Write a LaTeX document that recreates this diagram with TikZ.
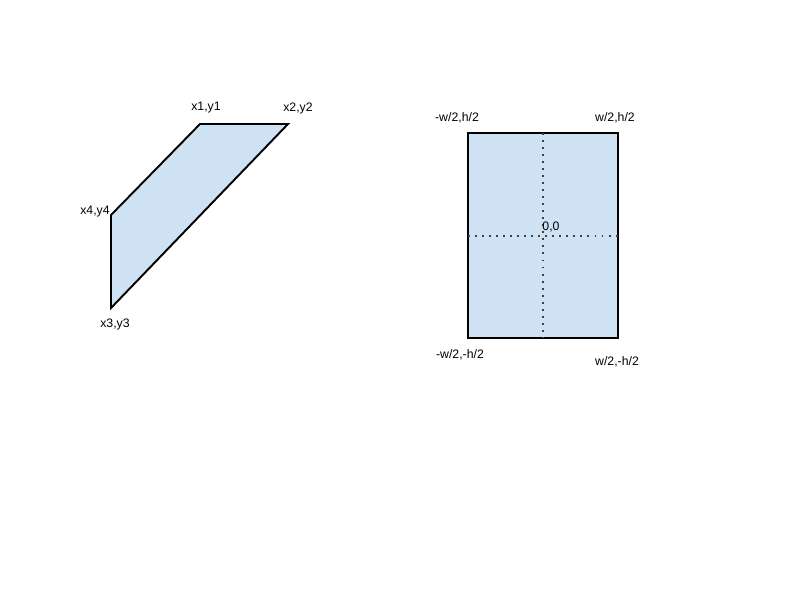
\documentclass[tikz,border=0pt]{standalone}
\usepackage{fontspec}
\setmainfont{Liberation Sans}
\definecolor{shapefill}{HTML}{CFE2F3}
\tikzset{
  shapeline/.style={draw=black, line width=1.1pt, fill=shapefill, line join=miter},
  axisline/.style={draw=black!75, line width=1.1pt, dash pattern=on 1.1pt off 2.9pt},
  corner/.style={font=\fontsize{7}{8}\selectfont, inner sep=0pt}
}

\begin{document}
\begin{tikzpicture}[x=0.02cm, y=-0.02cm]

\useasboundingbox (0,0) rectangle (800,600);

% Left shape
\coordinate (p1) at (200,124);
\coordinate (p2) at (288,124);
\coordinate (p3) at (111,308);
\coordinate (p4) at (111,215);
\draw [shapeline] (p1) -- (p2) -- (p3) -- (p4) -- cycle;

\node [corner] (l1) at (206,108) {x1,y1};
\node [corner] (l2) at (298,108) {x2,y2};
\node [corner] (l3) at (115,324) {x3,y3};
\node [corner] (l4) at (95,212) {x4,y4};

% Right shape
\coordinate (tl) at (468,133);
\coordinate (br) at (618,338);
\draw [shapeline] (tl) rectangle (br);
\coordinate (mt) at (543,133);
\coordinate (mb) at (543,338);
\coordinate (ml) at (468,236);
\coordinate (mr) at (618,236);
\draw [axisline] (mt) -- (mb);
\draw [axisline] (ml) -- (mr);

\node [corner] (ltl) at (457,118) {-w/2,h/2};
\node [corner] (ltr) at (615,118) {w/2,h/2};
\node [corner] (lc) at (551,227) {0,0};
\node [corner] (lbl) at (460,355) {-w/2,-h/2};
\node [corner] (lbr) at (617,362) {w/2,-h/2};

\end{tikzpicture}
\end{document}
